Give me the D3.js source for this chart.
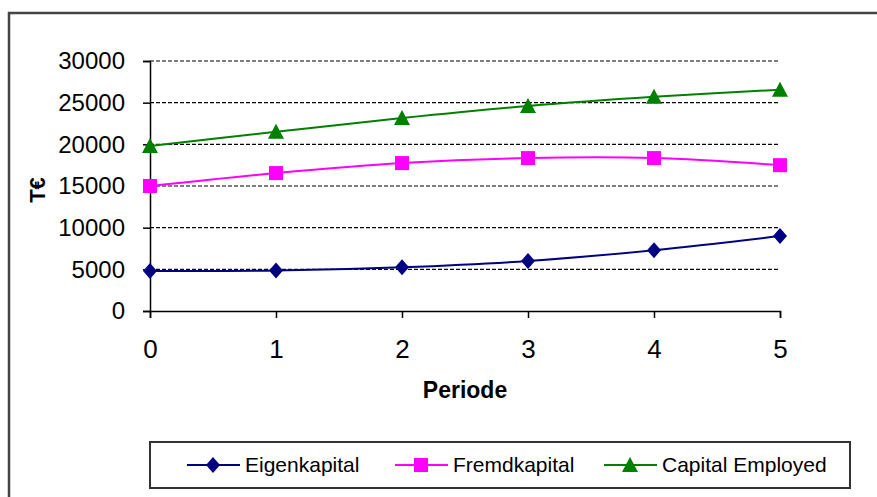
<!DOCTYPE html>
<html>
<head>
<meta charset="utf-8">
<script src="https://cdn.jsdelivr.net/npm/d3@7"></script>
<style>
  body { margin: 0; background: #fff; }
  svg text { font-family: "Liberation Sans", Arial, sans-serif; fill: #000; }
</style>
</head>
<body>
<div id="chart"></div>
<script>
// Kapitalentwicklung je Periode (T€)
const perioden = [0, 1, 2, 3, 4, 5];
const eigenkapital = [4800, 4850, 5250, 6000, 7300, 9000];
const fremdkapital = [15000, 16550, 17750, 18350, 18350, 17500];
const capitalEmployed = [19800, 21500, 23150, 24600, 25700, 26550];
const yTicks = [0, 5000, 10000, 15000, 20000, 25000, 30000];

const series = [
    { name: 'Eigenkapital', values: eigenkapital, color: '#000080', marker: 'diamond' },
    { name: 'Fremdkapital', values: fremdkapital, color: '#ff00ff', marker: 'square' },
    { name: 'Capital Employed', values: capitalEmployed, color: '#008000', marker: 'triangle' }
];

const width = 877, height = 497;
const plot = { left: 150, right: 780, top: 61, bottom: 311 };

const svg = d3.select('#chart').append('svg')
    .attr('width', width)
    .attr('height', height);

// outer chart frame (runs off the right and bottom edge)
svg.append('rect')
    .attr('x', 9).attr('y', 13)
    .attr('width', 900).attr('height', 520)
    .attr('fill', 'none')
    .attr('stroke', '#444')
    .attr('stroke-width', 2.5);

const x = d3.scaleLinear().domain([0, 5]).range([plot.left, plot.right]);
const y = d3.scaleLinear().domain([0, 30000]).range([plot.bottom, plot.top]);

// dashed gridlines
svg.append('g')
    .selectAll('line')
    .data(yTicks.filter(d => d > 0))
    .enter().append('line')
    .attr('x1', plot.left).attr('x2', plot.right)
    .attr('y1', d => y(d)).attr('y2', d => y(d))
    .attr('stroke', '#000')
    .attr('stroke-width', 1.2)
    .attr('stroke-dasharray', '4,2');

// y axis
const yAxis = svg.append('g')
    .attr('transform', `translate(${plot.left},0)`)
    .call(d3.axisLeft(y).tickValues(yTicks).tickSize(7).tickPadding(18).tickFormat(d3.format('d')));
yAxis.select('.domain').attr('stroke', '#000').attr('stroke-width', 1.5);
yAxis.selectAll('.tick line').attr('stroke', '#000').attr('stroke-width', 1.5);
yAxis.selectAll('.tick text').attr('font-size', 24).attr('font-family', null);

// x axis
const xAxis = svg.append('g')
    .attr('transform', `translate(0,${plot.bottom})`)
    .call(d3.axisBottom(x).tickValues(perioden).tickSize(7).tickPadding(22).tickFormat(d3.format('d')));
xAxis.select('.domain').attr('stroke', '#000').attr('stroke-width', 1.5);
xAxis.selectAll('.tick line').attr('stroke', '#000').attr('stroke-width', 1.5);
xAxis.selectAll('.tick text').attr('font-size', 26).attr('font-family', null);

// axis titles
svg.append('text')
    .attr('x', (plot.left + plot.right) / 2)
    .attr('y', 398)
    .attr('text-anchor', 'middle')
    .attr('font-size', 23)
    .attr('font-weight', 'bold')
    .text('Periode');

svg.append('text')
    .attr('transform', 'translate(45,190) rotate(-90)')
    .attr('text-anchor', 'middle')
    .attr('font-size', 22)
    .attr('font-weight', 'bold')
    .text('T€');

// marker shapes
function markerPath(type) {
    if (type === 'diamond') return 'M0,-8L7,0L0,8L-7,0Z';
    if (type === 'square') return 'M-7,-7H7V7H-7Z';
    return 'M0,-8L8,7H-8Z';
}

// smoothed lines like the spreadsheet
const line = d3.line()
    .x((d, i) => x(perioden[i]))
    .y(d => y(d))
    .curve(d3.curveCatmullRom.alpha(0.5));

series.forEach(s => {
    const g = svg.append('g');
    g.append('path')
        .attr('d', line(s.values))
        .attr('fill', 'none')
        .attr('stroke', s.color)
        .attr('stroke-width', 2);
    g.selectAll('path.mark')
        .data(s.values)
        .enter().append('path')
        .attr('class', 'mark')
        .attr('transform', (d, i) => `translate(${x(perioden[i])},${y(d)})`)
        .attr('d', markerPath(s.marker))
        .attr('fill', s.color);
});

// legend
const legend = svg.append('g');
legend.append('rect')
    .attr('x', 150).attr('y', 442)
    .attr('width', 700).attr('height', 46)
    .attr('fill', '#fff')
    .attr('stroke', '#333')
    .attr('stroke-width', 2);

const legendX = [187, 395, 604];
series.forEach((s, i) => {
    const g = legend.append('g').attr('transform', `translate(${legendX[i]},465)`);
    g.append('line')
        .attr('x1', 0).attr('x2', 53)
        .attr('stroke', s.color)
        .attr('stroke-width', 2);
    g.append('path')
        .attr('transform', 'translate(26,0)')
        .attr('d', markerPath(s.marker))
        .attr('fill', s.color);
    g.append('text')
        .attr('x', 58)
        .attr('y', 7)
        .attr('font-size', 21)
        .text(s.name);
});
</script>
</body>
</html>
